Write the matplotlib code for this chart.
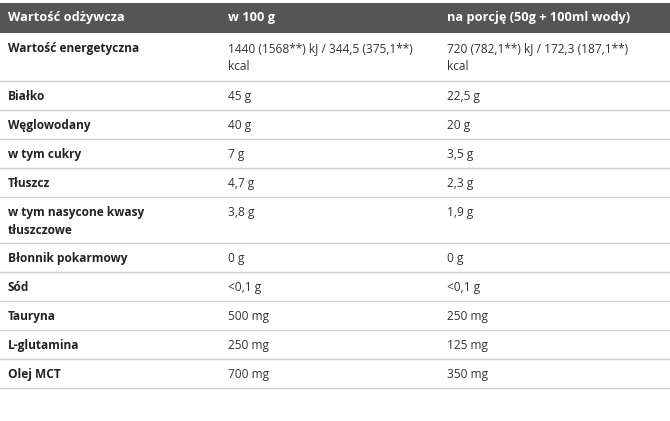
import matplotlib
matplotlib.use("Agg")
import matplotlib.pyplot as plt

headers = ["Wartość odżywcza", "w 100 g", "na porcję (50g + 100ml wody)"]
nutrients = ["Wartość energetyczna", "Białko", "Węglowodany", "w tym cukry", "Tłuszcz",
             "w tym nasycone kwasy\ntłuszczowe", "Błonnik pokarmowy", "Sód", "Tauryna",
             "L-glutamina", "Olej MCT"]
per100 = ["1440 (1568**) kJ / 344,5 (375,1**)\nkcal", "45 g", "40 g", "7 g", "4,7 g", "3,8 g",
          "0 g", "<0,1 g", "500 mg", "250 mg", "700 mg"]
perServing = ["720 (782,1**) kJ / 172,3 (187,1**)\nkcal", "22,5 g", "20 g", "3,5 g", "2,3 g",
              "1,9 g", "0 g", "<0,1 g", "250 mg", "125 mg", "350 mg"]

row_bounds = [33, 81, 110, 139, 168, 197, 243, 272, 301, 330, 359, 388]
col_x = [8, 228, 447]
FONT = "Open Sans"

fig = plt.figure(figsize=(6.70, 4.21), dpi=100)
ax = fig.add_axes([0, 0, 1, 1])
ax.set_xlim(0, 670)
ax.set_ylim(421, 0)
ax.axis("off")

ax.add_patch(plt.Rectangle((0, 3), 670, 30, color="#555555", lw=0))
for x, h in zip(col_x, headers):
    ax.text(x, 18, h, color="white", fontsize=9.2, fontweight="bold", va="center", family=FONT)

for i, (n, a, b) in enumerate(zip(nutrients, per100, perServing)):
    top = row_bounds[i]
    y = top + 9
    ax.text(col_x[0], y, n, fontsize=8.6, fontweight="bold", va="top", color="#222222",
            family=FONT, linespacing=1.45)
    ax.text(col_x[1], y, a, fontsize=8.6, va="top", color="#333333", family=FONT, linespacing=1.45)
    ax.text(col_x[2], y, b, fontsize=8.6, va="top", color="#333333", family=FONT, linespacing=1.45)
    ax.plot([0, 670], [row_bounds[i + 1], row_bounds[i + 1]], color="#d0d0d0", lw=1)

fig.savefig("out.png", dpi=100)
